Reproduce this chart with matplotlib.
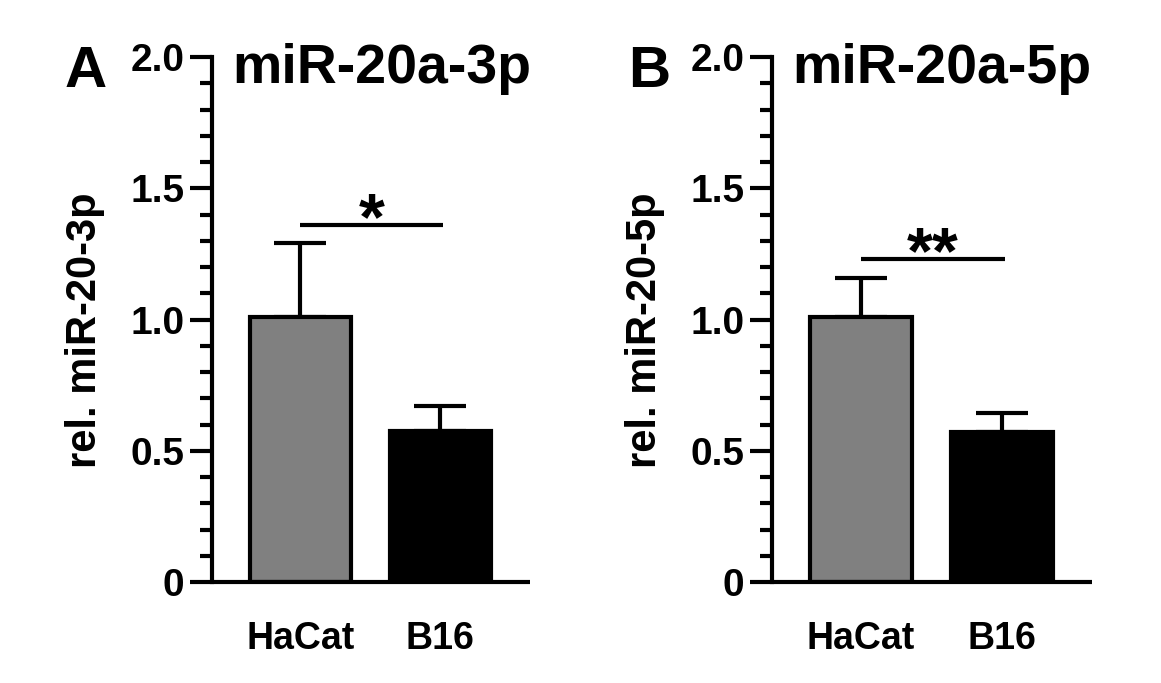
import matplotlib
matplotlib.use("Agg")
import matplotlib.pyplot as plt
from matplotlib.ticker import FixedLocator, FixedFormatter, MultipleLocator

plt.rcParams['font.family'] = ['Liberation Sans', 'DejaVu Sans']
plt.rcParams['font.weight'] = 'bold'

# ---- data ----
groups = ["HaCat", "B16"]
bar_colors = ["#808080", "#000000"]

panel_letters = ["A", "B"]
titles = ["miR-20a-3p", "miR-20a-5p"]
ylabels = ["rel. miR-20-3p", "rel. miR-20-5p"]

means_3p = [1.01, 0.575]
sem_3p = [0.28, 0.095]
means_5p = [1.01, 0.57]
sem_5p = [0.15, 0.075]

sig_y = [1.36, 1.23]
sig_text = ["*", "**"]

yticks = [0, 0.5, 1.0, 1.5, 2.0]
ytick_labels = ["0", "0.5", "1.0", "1.5", "2.0"]

W, H = 1161, 683
fig = plt.figure(figsize=(W / 100, H / 100), dpi=100)

panels = [
    (212, 530, means_3p, sem_3p),
    (772, 1092, means_5p, sem_5p),
]

lw = 3.0
for i, (x0, x1, means, sems) in enumerate(panels):
    ax = fig.add_axes([x0 / W, (H - 582) / H, (x1 - x0) / W, 525 / H])
    xs = list(range(len(groups)))
    ax.bar(xs, means, width=0.72, color=bar_colors, edgecolor="black",
           linewidth=lw, zorder=2)
    ax.errorbar(xs, means, yerr=[[0] * len(sems), sems], fmt="none",
                ecolor="black", elinewidth=lw, capsize=19, capthick=lw,
                zorder=1)

    ax.set_xlim(-0.63, 1.64)
    ax.set_ylim(0, 2.0)
    for s in ["top", "right"]:
        ax.spines[s].set_visible(False)
    for s in ["left", "bottom"]:
        ax.spines[s].set_linewidth(lw)
    ax.spines["bottom"].set_capstyle("butt")

    ax.yaxis.set_major_locator(FixedLocator(yticks))
    ax.yaxis.set_major_formatter(FixedFormatter(ytick_labels))
    ax.yaxis.set_minor_locator(MultipleLocator(0.1))
    ax.tick_params(axis="y", which="major", length=16, width=lw,
                   labelsize=28, pad=4)
    ax.tick_params(axis="y", which="minor", length=9, width=lw)
    ax.set_xticks(xs)
    ax.set_xticklabels(groups)
    ax.tick_params(axis="x", length=0, labelsize=27, pad=28)
    for lab in ax.get_xticklabels() + ax.get_yticklabels():
        lab.set_fontweight("bold")

    ax.set_ylabel(ylabels[i], fontsize=30, fontweight="bold")
    ax.yaxis.set_label_coords(-0.335, 0.48)

    # significance bar
    ax.plot([0, 1.02], [sig_y[i], sig_y[i]], color="black", lw=lw,
            solid_capstyle="butt")
    ax.annotate(sig_text[i], xy=(0.51, sig_y[i]), xytext=(0, -10),
                textcoords="offset points", ha="center", va="baseline",
                fontsize=48, fontweight="bold")

    # title and panel letter
    ax.text(20 / (x1 - x0), (582 - 83) / 525, titles[i],
            transform=ax.transAxes, ha="left", va="baseline",
            fontsize=40, fontweight="bold")
    fig.text((65 if i == 0 else 628) / W, (H - 87) / H, panel_letters[i],
             ha="left", va="baseline", fontsize=42, fontweight="bold")

fig.savefig("out.png", dpi=100)
